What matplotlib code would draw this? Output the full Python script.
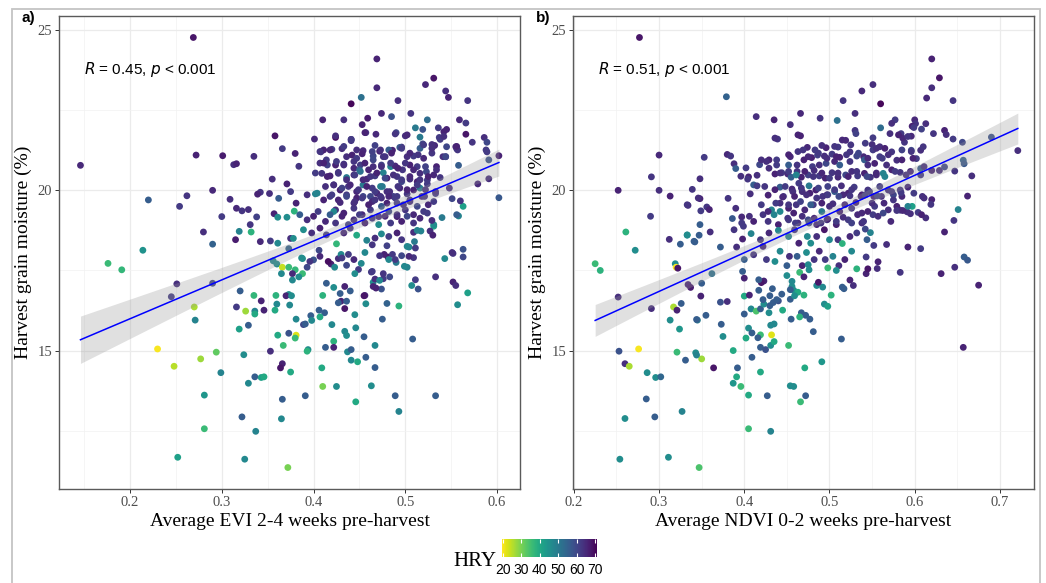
import numpy as np
import matplotlib
matplotlib.use("Agg")
import matplotlib.pyplot as plt
from matplotlib.patches import Rectangle
from matplotlib import colors

# ---- panel a: EVI 2-4 weeks pre-harvest vs harvest moisture, coloured by HRY ----
evi_top = [.269,.469,.469,.531,.522,.544,.547,.568,.492,.452,
           .441,.474,.485,.459,.433,.410,.506,.524,.559,.566,
           .511,.519,.536,.545,.566,.586,.589,.573,.453,.457,
           .468,.490,.500,.537,.358,.424,.401,.441,.366,.431,
           .467,.486,.496,.519,.532,.556,.272,.301,.335,.380,
           .408,.602,.541,.589,.591,.146,.313,.316,.384,.414,
           .558,.591,.579,.602,.355,.371,.375,.342,.339,.352,
           .290,.262,.220,.254,.309,.300,.316,.322,.329,.338,
           .331,.280,.319,.332,.315,.342,.353,.361,.290,.214,
           .176,.191,.251,.290,.245,.357,.361,.371,.379,.381,
           .362,.373,.375,.378,.356,.360,.366,.373,.380,.388,
           .377,.365,.384,.377,.393,.388,.400,.406,.425,.373,
           .370,.359,.335,.320,.410,.414,.422,.434,.429,.440,
           .456,.465,.474,.468,.476,.483,.463,.507,.514,.533,
           .552,.555,.563,.563,.552,.543,.568,.563,.558,.540,
           .551,.560,.548,.533,.531,.527,.530,.517,.510,.504,
           .509,.496,.502,.490,.481,.486,.464,.458,.480,.477,
           .447,.452,.449,.445,.436,.427,.419,.423,.438,.430]
moist_a_top = [24.77,24.1,23.2,23.5,23.3,23.1,22.9,22.8,22.8,22.9,
               22.7,22.4,22.3,22.25,22.2,22.2,22.4,22.2,22.2,22.1,
               21.95,21.9,21.95,21.9,21.75,21.65,21.5,21.5,22.05,21.8,
               21.75,21.8,21.7,21.65,21.7,21.65,21.6,21.55,21.3,21.3,
               21.4,21.25,21.35,21.45,21.4,21.3,21.1,21.08,21.06,21.15,
               21.2,21.08,21.05,21.2,20.95,20.78,20.8,20.83,20.75,20.95,
               20.78,20.36,20.2,19.77,20.35,20.2,19.96,19.94,19.88,19.9,
               20.0,19.83,19.7,19.5,19.72,19.18,19.44,19.36,19.4,19.17,
               18.93,18.7,18.72,18.7,18.46,18.4,18.42,18.35,18.32,18.13,
               17.72,17.52,17.08,17.1,16.68,19.27,19.16,19.16,19.35,19.6,
               19.75,18.18,18.5,18.5,17.8,17.7,17.6,17.6,17.52,17.4,
               17.4,17.4,17.3,17.2,17.6,17.87,17.83,18.13,18.33,16.75,
               16.71,16.72,16.72,16.86,16.72,17.1,16.97,17.0,16.78,16.86,
               16.72,17.13,16.92,16.95,17.24,17.3,17.45,17.03,16.92,17.3,
               17.14,17.03,17.92,18.16,18.03,17.87,16.8,19.5,19.2,19.15,
               19.74,19.67,20.07,19.9,18.88,18.73,18.6,18.73,18.4,18.23,
               17.9,17.96,17.6,17.75,17.92,18.0,18.3,18.44,18.27,18.0,
               18.6,17.72,17.53,17.4,17.66,17.87,17.7,17.6,18.0,18.0]
hry_a_top = [68,66,65,68,65,64,66,63,64,52,
             70,65,58,67,64,66,63,53,65,62,
             50,58,62,66,68,64,60,63,66,63,
             65,60,64,62,68,69,65,63,62,64,
             61,66,63,60,65,62,66,67,64,66,
             63,66,64,62,58,65,64,66,63,62,
             56,64,65,57,64,66,62,63,66,64,
             65,63,56,62,64,62,65,63,64,61,
             63,64,48,38,67,65,62,47,55,45,
             36,37,64,60,62,66,46,46,38,66,
             56,55,64,46,47,46,24,36,37,36,
             65,47,46,47,60,46,58,60,37,46,
             66,38,37,56,38,56,46,66,56,56,
             65,46,58,66,62,60,62,46,58,64,
             66,64,60,58,63,47,42,42,48,50,
             60,63,64,62,42,64,66,48,50,48,
             63,60,48,50,68,62,63,48,61,66,
             40,47,62,46,60,64,66,47,62,47]

evi_core = [.441,.516,.529,.538,.542,.545,.555,.557,.588,.411,
            .420,.436,.442,.447,.454,.465,.472,.476,.482,.494,
            .502,.509,.516,.520,.529,.534,.544,.407,.415,.424,
            .433,.444,.451,.460,.465,.474,.484,.489,.497,.505,
            .513,.516,.523,.531,.538,.409,.418,.427,.436,.444,
            .450,.458,.467,.476,.480,.491,.496,.505,.513,.524,
            .413,.422,.429,.438,.447,.454,.464,.469,.473,.480,
            .487,.494,.502,.509,.516,.524,.533,.447,.462,.474,
            .491]
moist_a_core = [21.59,21.66,21.43,21.59,21.83,21.36,21.36,21.26,21.26,21.26,
                21.28,21.05,21.1,21.0,21.24,21.07,21.22,21.05,21.26,21.34,
                21.05,21.07,21.31,21.0,21.16,20.74,21.05,20.85,20.79,20.79,
                20.82,20.69,20.79,20.64,20.74,20.79,20.74,20.76,20.64,20.79,
                20.74,20.53,20.58,20.48,20.4,20.53,20.45,20.53,20.4,20.48,
                20.64,20.35,20.45,20.55,20.38,20.43,20.27,20.35,20.27,20.32,
                20.12,20.17,20.01,20.12,19.96,20.17,20.07,19.91,20.12,19.96,
                19.81,20.07,19.89,20.01,20.07,20.2,19.96,19.76,19.81,19.76,
                19.81]
hry_a_core = [63,50,64,62,66,60,65,63,62,66,
              62,64,66,62,65,60,66,63,56,57,
              64,62,56,65,63,66,62,64,61,66,
              63,65,62,66,64,61,48,65,63,66,
              62,64,60,65,63,63,66,62,50,64,
              56,65,62,48,66,63,60,64,66,62,
              64,61,66,63,65,50,62,66,48,64,
              61,65,63,66,50,62,64,66,60,64,
              62]

evi_dense = [.424,.441,.456,.489,.502,.520,.542,.556,.407,.418,
             .433,.447,.453,.464,.473,.478,.485,.496,.505,.514,
             .529,.544,.411,.425,.433,.444,.456,.465,.474,.484,
             .492,.500,.509,.522,.534,.402,.415,.427,.436,.445,
             .454,.462,.469,.478,.487,.496,.505,.516,.525,.422,
             .431,.440,.449,.458,.467,.475,.483,.492,.502,.513,
             .522,.418,.427,.436,.445,.454,.464,.473,.480,.489,
             .498,.505,.518,.531,.424,.433,.444,.453,.462,.471,
             .482,.491,.500,.509,.520,.404,.422,.451,.531]
moist_a_dense = [21.7,21.59,21.8,21.76,21.73,21.42,21.68,21.37,21.21,21.26,
                 21.37,21.26,21.14,21.21,21.26,21.05,21.16,21.31,21.16,21.11,
                 21.31,21.05,20.85,20.9,20.79,20.9,20.85,20.95,20.74,20.85,
                 20.69,20.85,20.64,20.74,20.64,20.54,20.43,20.56,20.33,20.48,
                 20.33,20.43,20.54,20.38,20.48,20.33,20.43,20.33,20.43,20.17,
                 20.07,20.17,20.02,20.12,19.96,20.12,19.96,20.12,20.02,20.17,
                 20.02,19.81,19.7,19.86,19.65,19.81,19.65,19.81,19.6,19.76,
                 19.55,19.7,19.81,19.65,19.39,19.29,19.44,19.24,19.39,19.18,
                 19.34,19.18,19.39,19.24,19.34,19.91,19.34,20.59,18.93]
hry_a_dense = [64,62,66,63,65,62,64,66,63,65,
               62,64,66,61,64,63,66,62,65,63,
               64,60,66,62,64,63,66,60,64,62,
               66,63,65,61,64,62,66,63,64,62,
               65,63,66,60,64,62,65,63,66,64,
               61,65,63,66,62,50,64,63,66,62,
               64,63,66,62,64,60,65,63,66,62,
               64,63,65,62,64,66,63,65,62,64,
               60,66,63,65,62,48,47,52,46]

evi_mid = [.393,.402,.411,.420,.429,.436,.444,.453,.460,.467,
           .474,.482,.491,.505,.513,.521,.525,.385,.393,.400,
           .405,.413,.418,.424,.431,.438,.444,.450,.456,.464,
           .471,.478,.484,.491,.496,.502,.509,.516,.524,.529,
           .556,.389,.398,.407,.414,.433,.440,.467,.474,.482,
           .491,.496,.502,.509,.513,.387,.396,.407,.416,.431,
           .444,.456,.472,.482,.489,.499,.504,.511,.551,.464,
           .476,.467,.472,.511,.557,.455,.465,.445,.397,.389,
           .398,.420,.446,.434,.436,.455]
moist_a_mid = [19.86,19.89,19.70,19.86,19.62,19.81,19.60,19.76,19.55,19.70,
               19.50,19.81,19.60,19.65,19.50,19.81,19.55,19.24,19.08,19.19,
               19.34,19.03,19.24,18.98,19.19,18.93,19.08,19.24,18.98,19.13,
               18.93,19.19,18.98,19.24,19.03,19.19,18.98,19.13,19.29,19.06,
               19.24,18.77,18.67,18.82,18.61,18.67,18.82,18.51,18.64,18.56,
               18.67,18.46,18.25,18.69,18.75,17.89,17.78,17.94,17.78,17.89,
               17.84,18.06,17.96,17.84,17.84,17.63,17.94,18.2,18.06,17.47,
               17.4,17.23,17.19,17.21,16.43,16.71,17.0,16.12,16.09,15.81,
               15.94,15.81,15.71,15.6,15.47,15.43]
hry_a_mid = [64,48,66,62,65,60,64,62,66,63,
             57,65,62,64,60,63,65,56,64,66,
             62,65,56,63,66,61,64,62,66,63,
             46,65,62,64,66,60,63,65,62,64,
             56,46,64,66,62,65,63,64,47,62,
             66,63,47,64,48,46,63,65,69,62,
             65,47,63,47,62,47,65,62,64,62,
             63,64,47,62,46,68,66,46,56,60,
             47,47,47,47,46,56]

evi_low = [.376,.343,.360,.316,.270,.326,.336,.346,.358,.336,
           .374,.430,.436,.434,.427,.457,.480,.493,.475,.412,
           .406,.407,.381,.391,.329,.271,.319,.361,.373,.381,
           .380,.367,.467,.508,.422,.413,.422,.394,.393,.353,
           .324,.437,.441,.457,.441,.448,.467,.230,.294,.277,
           .248,.366,.364,.409,.375,.299,.336,.343,.346,.329,
           .410,.425,.463,.281,.391,.489,.533,.366,.446,.493,
           .322,.365,.281,.337,.252,.325,.372]
moist_a_low = [16.71,16.55,16.45,16.36,16.36,16.23,16.23,16.26,16.26,16.14,
               16.42,16.54,16.54,16.31,16.49,16.46,16.47,16.39,15.98,16.18,
               16.26,16.05,15.98,15.83,15.79,15.95,15.67,15.48,15.54,15.48,
               15.39,15.16,15.16,15.36,15.29,15.1,15.1,15.03,14.98,14.98,
               14.87,14.96,15.03,14.79,14.7,14.65,14.47,15.05,14.95,14.74,
               14.51,14.59,14.46,14.46,14.33,14.31,14.18,14.16,14.18,13.98,
               13.88,13.88,13.9,13.61,13.59,13.59,13.59,13.48,13.4,13.1,
               12.93,12.87,12.56,12.48,11.67,11.61,11.35]
hry_a_low = [46,66,47,62,26,27,48,66,40,40,
             47,66,56,68,56,46,55,38,56,56,
             56,40,47,56,56,48,42,40,58,22,
             36,36,47,56,38,56,66,46,38,64,
             46,47,56,56,47,40,56,20,32,27,
             25,66,68,40,40,48,56,42,40,47,
             30,46,46,44,56,56,56,56,40,48,
             56,47,36,48,42,47,30]

# ---- panel b: NDVI 0-2 weeks pre-harvest ----
ndvi_top = [.277,.620,.629,.620,.614,.645,.551,.538,.516,.560,
            .530,.379,.414,.435,.466,.489,.509,.454,.466,.439,
            .577,.600,.601,.613,.608,.597,.560,.571,.584,.596,
            .622,.635,.637,.645,.656,.690,.721,.530,.531,.519,
            .551,.550,.525,.496,.510,.491,.588,.596,.607,.602,
            .607,.620,.629,.635,.647,.657,.658,.667,.662,.651,
            .646,.635,.611,.620,.619,.613,.607,.592,.597,.591,
            .583,.567,.552,.557,.556,.543,.543,.544,.548,.542,
            .583,.631,.647,.658,.662,.675,.252,.291,.300,.300,
            .313,.339,.348,.353,.380,.384,.388,.390,.402,.418,
            .415,.405,.411,.396,.290,.334,.348,.356,.359,.349,
            .360,.372,.381,.386,.397,.399,.406,.408,.391,.388,
            .312,.325,.333,.342,.347,.261,.272,.225,.231,.319,
            .320,.322,.334,.337,.350,.362,.252,.349]
moist_b_top = [24.77,24.1,23.51,23.2,22.88,22.8,23.3,23.1,22.8,22.7,
               22.4,22.92,22.3,22.2,22.4,22.25,22.18,22.05,21.7,21.6,
               22.2,22.2,22.08,22.08,21.91,22.0,21.95,21.77,21.77,21.69,
               21.77,21.87,21.74,21.6,21.5,21.66,21.24,21.87,21.77,21.56,
               21.64,21.43,21.42,21.33,21.35,21.4,21.5,21.25,21.25,20.99,
               20.68,20.62,20.62,20.73,20.6,20.94,20.83,20.45,19.82,19.4,
               19.06,18.7,19.76,19.71,19.56,19.14,18.18,18.23,19.5,19.33,
               19.38,18.31,18.28,17.77,17.56,17.4,17.92,18.46,18.68,18.79,
               17.44,17.4,17.6,17.92,17.82,17.04,20.0,20.42,21.1,20.0,
               19.82,20.03,20.36,21.03,21.12,21.07,20.83,20.68,20.7,20.8,
               20.47,20.42,20.17,20.44,19.19,19.53,19.74,19.48,19.4,19.36,
               18.7,18.23,19.75,19.12,19.17,18.88,19.19,18.65,18.23,18.77,
               18.47,18.32,18.6,18.39,18.6,18.7,18.13,17.71,17.5,17.71,
               17.6,17.57,17.06,16.97,17.1,17.4,16.67,16.7]
hry_b_top = [68,66,68,64,65,63,64,65,63,70,
             64,55,64,66,65,63,52,64,66,63,
             62,65,63,64,61,66,53,64,62,65,
             63,66,64,62,60,58,64,63,61,65,
             62,64,63,66,62,64,63,60,64,62,
             56,66,64,60,63,55,57,64,66,48,
             63,66,64,66,63,64,62,66,42,64,
             62,64,62,66,64,66,62,56,48,60,
             63,66,64,56,57,66,66,63,65,64,
             66,63,64,62,65,63,64,56,62,60,
             64,66,56,64,62,64,66,63,66,62,
             64,56,63,57,65,62,64,48,64,63,
             64,56,47,56,56,38,46,36,38,46,
             20,68,66,67,56,52,64,66]

ndvi_low = [.291,.317,.321,.326,.313,.324,.345,.355,.372,.380,
            .373,.375,.387,.400,.406,.400,.408,.414,.417,.433,
            .444,.454,.458,.463,.470,.456,.419,.423,.430,.434,
            .440,.429,.445,.455,.467,.472,.477,.465,.405,.409,
            .402,.419,.416,.419,.425,.431,.435,.432,.431,.435,
            .452,.481,.491,.471,.409,.392,.391,.387,.396,.419,
            .405,.427,.454,.458,.472,.466,.431,.405,.364,.350,
            .343,.344,.331,.321,.276,.253,.260,.265,.286,.296,
            .302,.285,.327,.295,.260,.254,.311,.347,.514,.657,
            .492,.485,.487,.502,.494,.498,.515,.517,.528,.524,
            .423,.420]
moist_b_low = [16.31,16.36,16.26,16.47,15.95,15.67,15.95,16.1,16.51,16.53,
               15.82,15.44,15.0,16.7,16.73,16.14,16.3,16.23,16.88,16.93,
               16.76,16.6,16.88,16.82,16.73,17.0,16.3,16.45,16.4,16.5,
               16.55,16.18,16.26,15.98,16.18,16.1,15.98,16.05,15.7,15.55,
               15.39,15.49,15.4,15.1,15.03,15.16,15.28,15.49,15.79,15.83,
               15.16,15.59,14.65,14.46,14.79,14.46,14.18,13.98,13.88,14.33,
               13.61,13.59,13.9,13.88,13.59,13.4,12.48,12.56,14.46,14.74,
               14.93,14.86,14.7,14.95,15.05,14.98,14.59,14.51,14.31,14.16,
               14.18,13.49,13.1,12.93,12.88,11.61,11.67,11.35,15.36,15.1,
               16.98,17.03,17.13,16.73,16.45,16.38,16.98,16.93,17.03,17.2,
               17.17,17.12]
hry_b_low = [64,26,66,56,46,44,50,56,58,64,
             56,46,40,40,66,56,47,34,56,56,
             56,56,46,40,38,46,56,46,56,56,
             58,46,40,56,56,56,56,38,46,56,
             40,36,56,56,58,46,40,22,47,47,
             36,56,44,40,56,56,40,44,36,40,
             40,56,46,46,56,36,48,36,68,27,
             46,48,56,36,20,58,64,26,46,46,
             54,56,48,56,46,46,46,34,56,66,
             47,47,68,38,46,42,56,56,64,66,
             66,68]

ndvi_core = [.483,.474,.469,.479,.486,.494,.503,.512,.524,.532,
             .540,.551,.559,.565,.573,.573,.586,.599,.579,.585,
             .598,.610,.420,.429,.438,.454,.452,.462,.470,.480,
             .488,.496,.506,.512,.524,.541,.545,.553,.562,.567,
             .573,.583,.595,.607,.611,.404,.429,.436,.444,.451,
             .455,.462,.467,.475,.482,.488,.495,.503,.510,.519,
             .526,.533,.541,.548,.555,.563,.407,.415,.428,.442,
             .446,.456,.464,.468,.476,.484,.492,.498,.506,.514,
             .522,.529,.537,.545,.552,.559,.569,.575,.583,.592,
             .599,.609]
moist_b_core = [21.26,21.34,21.26,21.02,21.1,21.07,21.13,21.03,21.2,21.07,
                21.05,21.26,21.36,21.31,21.2,22.09,21.63,21.96,20.94,21.26,
                21.0,21.36,20.95,20.95,20.79,21.05,20.79,20.79,20.95,20.74,
                20.79,20.84,20.9,20.79,20.9,20.95,20.79,20.84,21.0,20.79,
                20.64,20.56,20.59,20.48,20.74,20.35,20.69,20.51,20.55,20.51,
                20.41,20.59,20.41,20.48,20.62,20.45,20.38,20.55,20.41,20.48,
                20.59,20.45,20.53,20.41,20.48,20.53,19.89,20.14,19.85,20.1,
                19.81,20.04,20.22,19.96,20.14,20.01,19.81,20.12,19.96,20.14,
                19.91,20.1,19.81,20.01,19.81,20.12,20.01,19.86,20.01,20.1,
                19.91,19.81]
hry_b_core = [62,65,63,66,61,64,62,66,63,60,
              65,62,64,66,63,64,65,62,64,61,
              66,63,64,66,62,65,56,63,66,62,
              64,60,65,56,63,56,64,66,62,64,
              66,63,65,62,64,63,64,66,62,65,
              56,63,66,61,64,62,66,63,65,60,
              64,62,66,63,65,48,64,62,66,56,
              63,65,62,64,50,66,63,61,56,64,
              66,62,64,63,66,62,64,60,63,65,
              62,64]

ndvi_dense = [.436,.463,.506,.515,.542,.555,.581,.592,.426,.438,
              .452,.463,.475,.487,.497,.508,.520,.534,.545,.559,
              .569,.585,.596,.442,.452,.461,.471,.481,.491,.500,
              .510,.522,.532,.544,.555,.565,.577,.590,.424,.436,
              .448,.457,.467,.477,.487,.497,.506,.516,.526,.538,
              .547,.561,.573,.585,.420,.432,.442,.452,.461,.471,
              .481,.491,.500,.512,.526,.538,.553,.569,.592,.428,
              .440,.452,.463,.475,.485,.497,.508,.522,.538]
moist_b_dense = [21.63,21.73,21.37,21.57,21.47,21.31,21.73,21.68,20.9,20.95,
                 21.11,21.21,21.05,21.16,21.0,21.05,21.11,21.16,21.0,21.05,
                 21.11,20.95,21.21,20.54,20.59,20.48,20.59,20.43,20.54,20.38,
                 20.54,20.43,20.59,20.43,20.54,20.43,20.59,20.48,20.12,20.02,
                 20.12,19.96,20.07,19.91,20.07,19.86,20.02,19.86,20.02,19.86,
                 19.96,19.81,19.96,19.81,19.55,19.39,19.6,19.44,19.55,19.39,
                 19.55,19.34,19.5,19.34,19.44,19.29,19.5,19.39,19.5,19.03,
                 18.93,19.08,18.98,19.08,18.93,19.08,18.93,19.08,18.98]
hry_b_dense = [64,66,63,65,62,64,66,63,64,62,
               66,63,65,62,64,66,63,60,65,62,
               64,66,63,64,62,48,66,63,65,62,
               64,66,63,60,65,48,62,64,63,66,
               62,64,63,66,61,64,62,65,63,66,
               62,64,63,65,62,48,64,66,63,65,
               62,50,64,66,63,65,62,64,48,63,
               66,62,64,60,65,63,66,62,64]

ndvi_mid = [.346,.437,.445,.452,.459,.466,.473,.478,.485,.491,
            .498,.504,.511,.518,.524,.531,.542,.550,.556,.564,
            .575,.579,.584,.595,.604,.608,.579,.586,.333,.390,
            .397,.411,.422,.428,.435,.442,.451,.458,.460,.468,
            .476,.482,.490,.498,.508,.516,.526,.533,.540,.545,
            .551,.557,.563,.572,.348,.333,.341,.398,.419,.429,
            .440,.452,.459,.464,.474,.478,.485,.494,.500,.510,
            .515,.524,.532,.400,.411,.422,.426,.436,.442,.450,
            .453,.462,.468,.473,.475,.482,.488,.495,.498,.504,
            .511,.518,.526,.532,.545,.398,.400,.417,.450,.456,
            .465,.470,.476,.508,.422,.430,.438,.454,.459,.344]
moist_b_mid = [19.76,19.6,19.79,19.55,19.81,19.65,19.86,19.55,19.76,19.6,
               19.86,19.58,19.81,19.55,19.83,19.62,19.86,19.6,19.83,19.6,
               19.7,19.5,19.93,19.27,19.31,19.24,19.37,19.37,19.55,19.44,
               18.98,19.03,19.24,19.34,19.24,19.34,19.13,19.29,18.98,19.19,
               18.98,19.13,18.98,19.1,19.03,19.16,18.98,19.24,19.03,19.34,
               19.24,19.19,19.29,19.03,18.93,18.61,18.41,18.48,18.46,18.67,
               18.75,18.56,18.77,18.35,18.56,18.35,18.56,18.77,18.46,18.46,
               18.34,18.56,18.67,17.84,17.99,18.25,17.84,17.78,18.1,17.65,
               17.94,17.94,17.65,18.06,17.68,17.84,18.1,17.84,17.58,17.94,
               17.65,17.84,18.1,17.55,17.55,17.47,17.26,17.21,17.34,17.16,
               17.44,17.3,17.52,17.5,16.59,16.71,16.59,16.9,16.71,15.97]
hry_b_mid = [64,62,65,63,66,61,64,56,63,66,
             62,64,60,65,63,66,62,64,61,65,
             63,66,62,64,62,66,63,65,63,64,
             62,66,63,65,48,47,63,66,62,64,
             60,65,63,66,62,64,61,65,63,66,
             62,64,60,65,56,46,56,66,63,65,
             47,48,63,66,47,46,64,68,47,63,
             38,65,62,56,63,65,62,46,47,56,
             64,56,66,46,47,63,65,62,36,48,
             64,66,47,38,68,56,66,56,46,47,
             36,66,46,46,56,56,56,56,46,56]

panel_labels = ["a)", "b)"]
x_titles = ["Average EVI 2-4 weeks pre-harvest", "Average NDVI 0-2 weeks pre-harvest"]
cor_texts = [r"$\it{R}$ = 0.45, $\it{p}$ < 0.001", r"$\it{R}$ = 0.51, $\it{p}$ < 0.001"]
hry_ticks = [20, 30, 40, 50, 60, 70]

evi = np.array(evi_top + evi_core + evi_dense + evi_mid + evi_low)
moist_a = np.array(moist_a_top + moist_a_core + moist_a_dense + moist_a_mid + moist_a_low)
hry_a = np.array(hry_a_top + hry_a_core + hry_a_dense + hry_a_mid + hry_a_low)
ndvi = np.array(ndvi_top + ndvi_low + ndvi_core + ndvi_dense + ndvi_mid)
moist_b = np.array(moist_b_top + moist_b_low + moist_b_core + moist_b_dense + moist_b_mid)
hry_b = np.array(hry_b_top + hry_b_low + hry_b_core + hry_b_dense + hry_b_mid)
assert len(evi) == len(moist_a) == len(hry_a)
assert len(ndvi) == len(moist_b) == len(hry_b)

SERIF = "Liberation Serif"
SANS = "Liberation Sans"
cmap = plt.get_cmap("viridis_r")
norm = colors.Normalize(vmin=19.5, vmax=71)

W, H = 1046, 583
fig = plt.figure(figsize=(W / 100, H / 100), dpi=100)

# light frame around the whole figure
fig.patches.append(Rectangle((12 / W, -0.02), 1028 / W, 1 - 9 / H + 0.02,
                             transform=fig.transFigure, fill=False,
                             edgecolor="#c4c4c4", lw=1.3))


def panel(rect, x, y, hry, xlim, xticks, xminor, xlabel, cor, tag, tag_x):
    ax = fig.add_axes(rect)
    ax.scatter(x, y, c=hry, cmap=cmap, norm=norm, s=24, linewidths=0, zorder=2)

    # linear fit with 95% confidence band (like geom_smooth(method="lm"))
    slope, icpt = np.polyfit(x, y, 1)
    xs = np.linspace(x.min(), x.max(), 100)
    fit = icpt + slope * xs
    n = len(x)
    resid = y - (icpt + slope * x)
    s = np.sqrt(np.sum(resid ** 2) / (n - 2))
    se = s * np.sqrt(1 / n + (xs - x.mean()) ** 2 / np.sum((x - x.mean()) ** 2))
    ax.fill_between(xs, fit - 1.965 * se, fit + 1.965 * se, color="#999999",
                    alpha=0.3, lw=0, zorder=3)
    ax.plot(xs, fit, color="#0000ff", lw=1.1, zorder=4)

    ax.set_xlim(*xlim)
    ax.set_ylim(10.68, 25.44)
    ax.set_xticks(xticks)
    ax.set_xticks(xminor, minor=True)
    ax.set_xticklabels([f"{t:.1f}" for t in xticks])
    ax.set_yticks([15, 20, 25])
    ax.set_yticks([12.5, 17.5, 22.5], minor=True)
    ax.set_axisbelow(True)
    ax.grid(which="major", color="#ebebeb", lw=0.9)
    ax.grid(which="minor", color="#f2f2f2", lw=0.5)
    ax.tick_params(which="major", length=3, width=0.7, color="#333333",
                   labelcolor="#4d4d4d", labelsize=10.5, pad=2)
    ax.tick_params(which="minor", length=0)
    for lab in ax.get_xticklabels() + ax.get_yticklabels():
        lab.set_fontfamily(SERIF)
    for sp in ax.spines.values():
        sp.set_color("#5a5a5a")
        sp.set_linewidth(1.0)
    ax.set_xlabel(xlabel, family=SERIF, fontsize=14, labelpad=3)
    ax.set_ylabel("Harvest grain moisture (%)", family=SERIF, fontsize=14, labelpad=4)
    ax.text(0.054, 0.886, cor, transform=ax.transAxes, family=SANS, fontsize=11,
            ha="left", va="center")
    fig.text(tag_x / W, 1 - 18 / H, tag, family=SANS, fontsize=11,
             fontweight="bold", ha="left", va="center")
    return ax


panel([59 / W, 94 / H, 461 / W, 473 / H], evi, moist_a, hry_a,
      (0.1226, 0.625), [0.2, 0.3, 0.4, 0.5, 0.6], [0.15, 0.25, 0.35, 0.45, 0.55],
      x_titles[0], cor_texts[0], panel_labels[0], 22)
panel([573 / W, 94 / H, 461 / W, 473 / H], ndvi, moist_b, hry_b,
      (0.199, 0.740), [0.2, 0.3, 0.4, 0.5, 0.6, 0.7],
      [0.25, 0.35, 0.45, 0.55, 0.65], x_titles[1], cor_texts[1], panel_labels[1], 536)

# colour bar legend
cax = fig.add_axes([502 / W, 26 / H, 95 / W, 18 / H])
sm = plt.cm.ScalarMappable(norm=norm, cmap=cmap)
cb = fig.colorbar(sm, cax=cax, orientation="horizontal", ticks=hry_ticks)
cb.outline.set_visible(False)
cax.tick_params(axis="x", direction="in", length=3, width=0.8, color="white",
                top=True, bottom=True, labelsize=10, pad=4)
for lab in cax.get_xticklabels():
    lab.set_fontfamily(SANS)
fig.text(496 / W, 1 - 561 / H, "HRY", family=SERIF, fontsize=15,
         ha="right", va="center")

fig.savefig("out.png", dpi=100)
